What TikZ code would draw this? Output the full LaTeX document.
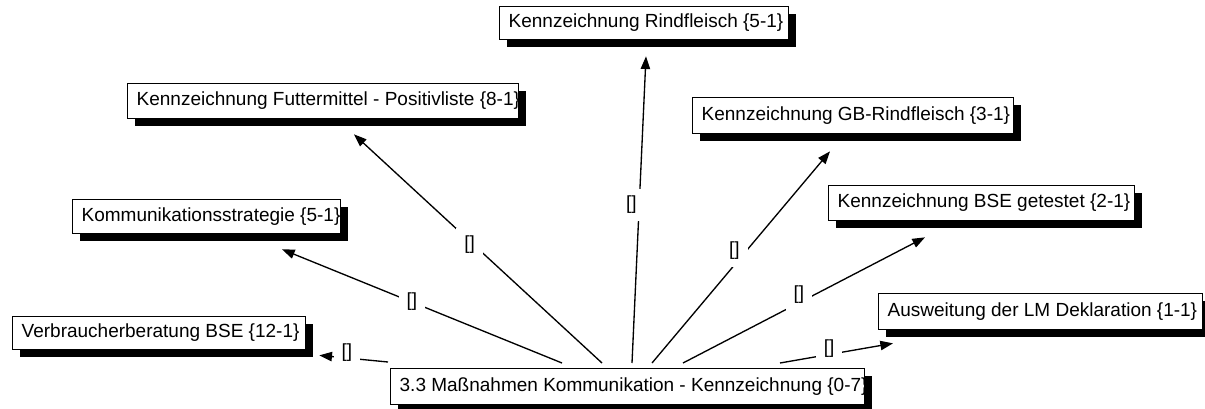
\documentclass[tikz,border=0pt]{standalone}
\usepackage{fontspec}
\setmainfont{Liberation Sans}
\usetikzlibrary{arrows.meta,shadows,calc}
\newcommand\bxtext[2]{\makebox[#1][l]{\hspace{6.75pt}\strut #2}}
\tikzset{
  boxnode/.style={draw, fill=white, line width=1pt, inner sep=0pt, anchor=north west,
    drop shadow={shadow xshift=5.25pt, shadow yshift=-5.25pt, fill=black, opacity=1}},
  edge/.style={line width=1pt, -{Triangle[length=9.5pt,width=7pt]}},
  lbl/.style={fill=white, inner xsep=6pt, inner ysep=5.5pt}
}
\begin{document}
\begin{tikzpicture}[x=0.75pt,y=-0.75pt,font=\fontsize{14.25}{17}\selectfont]
\useasboundingbox (0,0) rectangle (1205,408);
\node[boxnode, minimum width=216.75pt, minimum height=24.75pt] (R) at (499,6) {\bxtext{216.75pt}{Kennzeichnung Rindfleisch \{5-1\}}};
\node[boxnode, minimum width=293.25pt, minimum height=26.25pt] (F) at (127,83) {\bxtext{293.25pt}{Kennzeichnung Futtermittel - Positivliste \{8-1\}}};
\node[boxnode, minimum width=240.75pt, minimum height=27pt] (GB) at (692,97) {\bxtext{240.75pt}{Kennzeichnung GB-Rindfleisch \{3-1\}}};
\node[boxnode, minimum width=229.5pt, minimum height=26.25pt] (BSE) at (828,185) {\bxtext{229.5pt}{Kennzeichnung BSE getestet \{2-1\}}};
\node[boxnode, minimum width=201pt, minimum height=25.5pt] (K) at (72,199) {\bxtext{201pt}{Kommunikationsstrategie \{5-1\}}};
\node[boxnode, minimum width=243pt, minimum height=27pt] (A) at (878,293) {\bxtext{243pt}{Ausweitung der LM Deklaration \{1-1\}}};
\node[boxnode, minimum width=219.75pt, minimum height=24.75pt] (V) at (12,316) {\bxtext{219.75pt}{Verbraucherberatung BSE \{12-1\}}};
\node[boxnode, minimum width=355.5pt, minimum height=27pt] (M) at (390,368) {\bxtext{355.5pt}{3.3 Maßnahmen Kommunikation - Kennzeichnung \{0-7\}}};

\draw[edge] ($(M.north west)+(-2,-6)$) -- node[lbl,pos=0.6,yshift=3.75pt]{[]} ($(V.south east)+(13,5)$);
\draw[edge] ($(M.north west)+(172,-5)$) -- node[lbl,pos=0.536]{[]} ($(K.south west)+(210,15)$);
\draw[edge] ($(M.north west)+(212,-5)$) -- node[lbl,pos=0.52,xshift=-2.6pt]{[]} ($(F.south west)+(227,15)$);
\draw[edge] ($(M.north west)+(242,-5)$) -- node[lbl,pos=0.515,xshift=-5.8pt]{[]} ($(R.south west)+(147,16)$);
\draw[edge] ($(M.north west)+(262,-5)$) -- node[lbl,pos=0.53,xshift=-9pt]{[]} ($(GB.south west)+(138,17)$);
\draw[edge] ($(M.north west)+(293,-5)$) -- node[lbl,pos=0.479,yshift=6pt]{[]} ($(BSE.south west)+(97,16)$);
\draw[edge] ($(M.north west)+(390,-5)$) -- node[lbl,pos=0.434,yshift=4.5pt]{[]} ($(A.south west)+(15,13)$);
\end{tikzpicture}
\end{document}
